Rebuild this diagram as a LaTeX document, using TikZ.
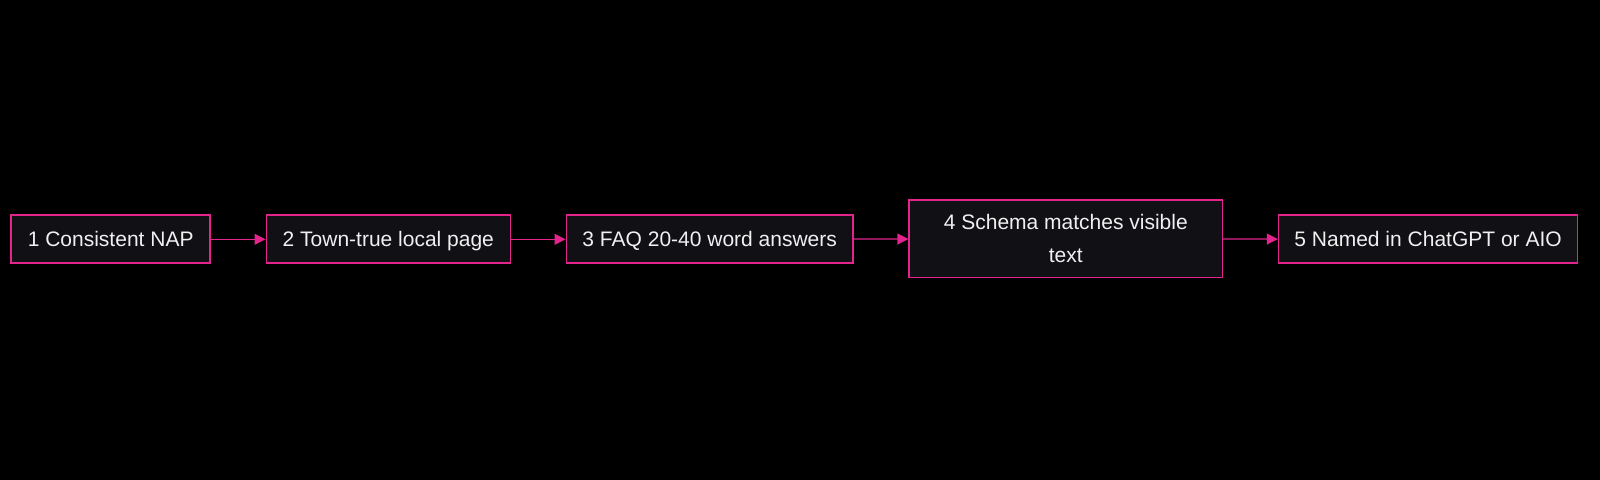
\documentclass[tikz,border=0pt]{standalone}
\usepackage{fontspec}
\setmainfont{Liberation Sans}
\usetikzlibrary{arrows.meta}
\definecolor{pinkline}{RGB}{226,36,140}
\definecolor{boxfill}{RGB}{17,16,21}
\definecolor{txt}{RGB}{240,240,240}
\begin{document}
\begin{tikzpicture}[x=0.5pt,y=-0.5pt,
  stepbox/.style={draw=pinkline, fill=boxfill, line width=0.8pt, text=txt,
    font=\fontsize{10.5}{16.5}\selectfont, inner sep=0pt, minimum height=24pt, align=center},
  onebox/.style={stepbox, text height=8.6pt, text depth=1.1pt},
  conn/.style={draw=pinkline, line width=0.65pt, -{Triangle[length=5.5pt,width=5.5pt]}}]
\fill[black] (0,0) rectangle (1600,480);
\useasboundingbox (0,0) rectangle (1600,480);
\node[onebox, minimum width=99.5pt] (n1) at (110.7,239.3) {1 Consistent NAP};
\node[onebox, minimum width=122pt] (n2) at (388.3,239.3) {2 Town-true local page};
\node[onebox, minimum width=143.4pt] (n3) at (709.7,239.3) {3 FAQ 20-40 word answers};
\node[stepbox, minimum width=156.6pt, minimum height=38.8pt] (n4) at (1065.8,238.8) {4 Schema matches visible\\text};
\node[onebox, minimum width=149.5pt] (n5) at (1428.1,239.3) {5 Named in ChatGPT or AIO};
\draw[conn] (n1) -- (n2);
\draw[conn] (n2) -- (n3);
\draw[conn] (n3) -- (n4);
\draw[conn] (n4) -- (n5);
\end{tikzpicture}
\end{document}
